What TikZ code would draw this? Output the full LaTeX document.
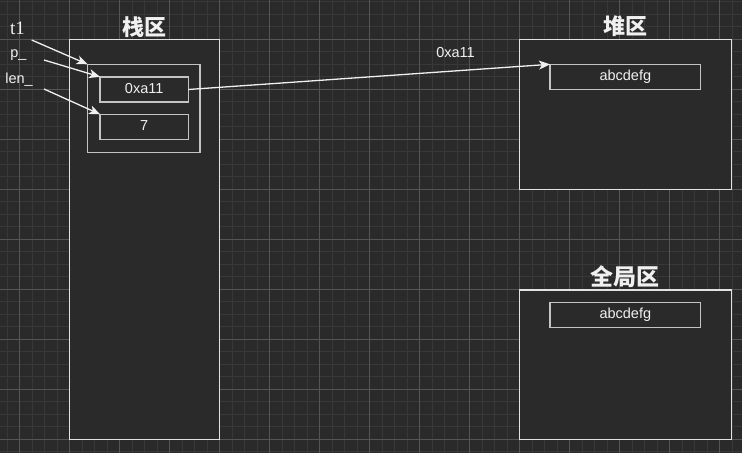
\documentclass[tikz,border=0pt]{standalone}
\usepackage{fontspec}
\setmainfont{Liberation Sans}
\newfontfamily\cjk{Noto Sans CJK SC}
\newfontfamily\myseriffont{Liberation Serif}
\usetikzlibrary{arrows.meta}
\definecolor{bg}{HTML}{2A2A2A}
\definecolor{gminor}{HTML}{383838}
\definecolor{gmajor}{HTML}{555555}
\definecolor{outerc}{HTML}{E2E2E2}
\definecolor{innerc}{HTML}{C4C4C4}
\definecolor{txt}{HTML}{F0F0F0}
\begin{document}
\begin{tikzpicture}[x=1pt,y=-1pt,
  minorline/.style={draw=gminor,line width=1pt},
  majorline/.style={draw=gmajor,line width=1pt},
  region/.style={draw=outerc,fill=bg,line width=1.5pt,rectangle,inner sep=0pt,outer sep=0pt},
  cell/.style={draw=innerc,fill=bg,line width=1.4pt,rectangle,inner sep=0pt,outer sep=0pt,
    text=txt,font=\fontsize{14.5}{16}\selectfont,text height=0.72em,text depth=0pt},
  title/.style={text=txt,font=\cjk\bfseries\fontsize{22}{24}\selectfont,inner sep=0pt},
  lbl/.style={text=txt,font=\fontsize{14.5}{16}\selectfont,inner sep=0pt},
  ptr/.style={draw=txt,line width=1.3pt,-{Stealth[length=11pt,width=9pt,inset=3pt]}}
]
\useasboundingbox[fill=bg] (0,0) rectangle (742,453);
\foreach \i in {0,...,59} {\pgfmathsetmacro\xx{7+12.5*\i}\draw[minorline] (\xx,0) -- (\xx,453);}
\foreach \i in {0,...,36} {\pgfmathsetmacro\yy{1.8+12.5*\i}\draw[minorline] (0,\yy) -- (742,\yy);}
\foreach \i in {0,...,14} {\pgfmathsetmacro\xx{19.5+50*\i}\draw[majorline] (\xx,0) -- (\xx,453);}
\foreach \i in {0,...,8} {\pgfmathsetmacro\yy{39.3+50*\i}\draw[majorline] (0,\yy) -- (742,\yy);}

% stack
\node[region,minimum width=150pt,minimum height=400pt] (stack) at (144.3,239.3) {};
\node[title] (tstack) at (144.3,27) {栈区};
\node[region,draw=innerc,line width=1.4pt,minimum width=112.5pt,minimum height=88pt] (obj) at (143.8,108.3) {};
\node[cell,minimum width=88.3pt,minimum height=25.3pt] (cella) at (144.2,89.5) {0xa11};
\node[cell,minimum width=88.3pt,minimum height=25.4pt] (cellb) at (144.2,127) {7};

% heap
\node[region,minimum width=212pt,minimum height=150pt] (heap) at (625.3,114.3) {};
\node[title] (theap) at (625.3,26.5) {堆区};
\node[cell,minimum width=150.7pt,minimum height=25pt] (heapcell) at (625.3,76.8) {abcdefg};

% global
\node[region,minimum width=212pt,minimum height=149.3pt] (glob) at (625.3,364.7) {};
\node[title,font=\cjk\bfseries\fontsize{23}{25}\selectfont] (tglob) at (625.3,276.7) {全局区};
\node[cell,minimum width=150.7pt,minimum height=25pt] (globcell) at (625.3,314.8) {abcdefg};

% labels
\node[text=txt,font={\myseriffont\fontsize{19}{21}\selectfont},inner sep=0pt,anchor=base] (lt1) at (17.5,34.3) {t1};
\node[lbl,anchor=base] (lp) at (18.5,57.5) {p\_};
\node[lbl,anchor=base] (llen) at (19,83.7) {len\_};
\node[lbl] (laddr) at (455.5,53) {0xa11};

\coordinate (st1) at (31.7,40);
\coordinate (sp) at (44,60);
\coordinate (slen) at (44,89);

\draw[ptr] (st1) -- (obj.north west);
\draw[ptr] (sp) -- (cella.north west);
\draw[ptr] (slen) -- (cellb.north west);
\draw[ptr] (cella.east) -- (heapcell.north west);
\end{tikzpicture}
\end{document}
